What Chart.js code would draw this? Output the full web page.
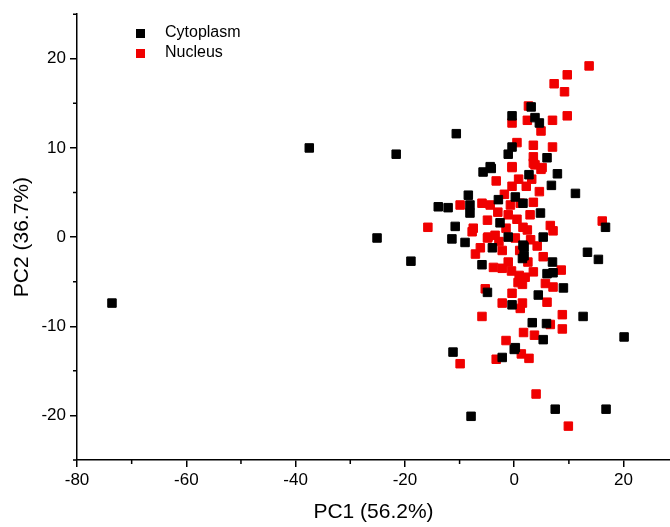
<!DOCTYPE html>
<html>
<head>
<meta charset="utf-8">
<script src="https://cdn.jsdelivr.net/npm/chart.js@4.4.1/dist/chart.umd.min.js"></script>
<style>
  html, body { margin: 0; padding: 0; background: #fff; overflow: hidden; }
  #wrap { width: 677px; height: 527px; position: relative; }
</style>
</head>
<body>
<div id="wrap"><canvas id="myChart"></canvas></div>
<script>
// PCA scores, [PC1, PC2]
let cytoplasm = [
    [-73.6, -7.4], [-37.5, 10.0], [-21.6, 9.3], [-25.1, -0.1], [-18.9, -2.7],
    [-10.6, 11.6], [-11.2, -12.9], [-7.9, -20.1], [7.5, -19.3], [16.8, -19.3],
    [20.1, -11.2], [12.6, -8.9], [15.4, -2.5], [13.4, -1.7], [11.2, 4.9],
    [16.7, 1.1], [9.0, -5.7], [7.0, -2.8], [5.3, -11.5], [3.3, -9.6],
    [5.9, -9.7], [-2.2, -13.5], [0.0, -12.6], [6.0, -4.1], [7.1, -4.0],
    [1.8, -2.1], [4.4, -6.5], [-5.9, -3.1], [1.5, -2.4], [-4.9, -6.2],
    [-0.4, -7.6], [-5.7, 7.3], [-4.2, 7.7], [-8.4, 4.7], [-13.9, 3.4],
    [-12.1, 3.3], [-8.1, 3.6], [-8.1, 2.7], [-2.9, 4.2], [0.2, 4.5],
    [-10.8, 1.2], [-2.6, 1.6], [-11.4, -0.2], [-9.0, -0.6], [-4.0, -1.2],
    [1.6, -0.9], [2.7, 7.0], [7.9, 7.1], [6.8, 5.8], [4.8, 2.7],
    [5.3, 0.0], [3.1, 14.6], [-0.4, 13.6], [3.8, 13.4], [4.6, 12.8],
    [-0.4, 10.1], [-1.1, 9.3], [6.0, 8.9], [-4.4, 7.9], [-1.1, 0.0],
    [1.8, -1.1], [0.2, -12.4], [1.6, 3.8]
];
let nucleus = [
    [13.7, 19.2], [9.7, 18.2], [7.3, 17.2], [9.2, 16.3], [2.6, 14.7],
    [9.7, 13.6], [-0.4, 12.8], [2.4, 13.1], [7.0, 13.1], [4.9, 11.9],
    [0.5, 10.6], [3.5, 10.3], [3.5, 9.0], [7.0, 10.1], [3.8, 8.1],
    [-0.4, 7.9], [5.1, 7.8], [3.5, 8.3], [4.9, 7.6], [2.2, 5.7],
    [4.6, 5.1], [3.5, 3.9], [2.9, 2.5], [6.6, 1.3], [7.1, 0.7],
    [16.1, 1.8], [2.4, 0.8], [4.2, -1.0], [5.3, -2.2], [8.6, -3.7],
    [3.5, -3.9], [2.0, -4.5], [1.5, -5.3], [5.7, -5.2], [7.1, -5.6],
    [6.0, -7.3], [1.5, -7.4], [8.8, -8.7], [8.8, -10.3], [6.6, -9.8],
    [1.7, -10.7], [3.7, -11.0], [-7.1, -1.9], [-3.8, -3.4], [-2.2, -3.5],
    [-1.1, -2.8], [0.9, -4.3], [-5.3, -5.8], [-2.2, -7.4], [-0.4, -6.3],
    [1.1, -8.0], [-5.9, -8.9], [-1.5, -11.6], [-9.9, -14.2], [-3.3, -13.7],
    [1.3, -13.1], [2.7, -13.6], [4.0, -17.6], [9.9, -21.2], [-3.3, 6.3],
    [-0.4, 7.8], [-0.4, 5.7], [-9.9, 3.6], [-5.9, 3.8], [-4.4, 3.6],
    [-0.7, 3.6], [1.1, 3.8], [-15.8, 1.1], [-7.5, 1.0], [-4.9, 1.9],
    [-1.1, 2.5], [-3.5, 0.2], [-4.9, -0.1], [-6.2, -1.2], [-2.2, -1.5],
    [0.2, -0.1], [1.6, 1.1], [-7.7, 0.6], [-4.8, 0.0], [0.7, -5.1],
    [-1.5, 1.0], [0.5, 2.0], [-2.8, -0.5], [1.0, -1.5], [-0.5, -3.8],
    [2.5, -2.8], [3.0, -0.3], [-3.0, 2.8], [-1.8, 4.8], [0.8, 6.5], [3.2, 6.5]
];
let series_labels = ['Cytoplasm', 'Nucleus'];
let series_colors = ['#000000', '#f00000'];
let x_ticks = [-80, -60, -40, -20, 0, 20];
let y_ticks = [-20, -10, 0, 10, 20];

let font_family = "'Liberation Sans', Arial, sans-serif";

function toPoints(arr) {
    return arr.map(function (d) { return { x: d[0], y: d[1] } });
}

// short minor ticks halfway between the labelled ones, and the inner legend
let decorations = {
    id: 'decorations',
    afterDraw: function (chart) {
        let c = chart.ctx;
        let xs = chart.scales.x;
        let ys = chart.scales.y;
        let area = chart.chartArea;
        c.save();
        c.strokeStyle = '#000';
        c.lineWidth = 1.5;
        c.beginPath();
        for (let i = 0; i < x_ticks.length; i++) {
            let px = xs.getPixelForValue(x_ticks[i] + 10);
            if (px > area.right) continue;
            c.moveTo(px, area.bottom);
            c.lineTo(px, area.bottom + 4);
        }
        for (let i = 0; i < y_ticks.length; i++) {
            let py = ys.getPixelForValue(y_ticks[i] + 5);
            c.moveTo(area.left - 4, py);
            c.lineTo(area.left, py);
        }
        let py0 = ys.getPixelForValue(y_ticks[0] - 5);
        c.moveTo(area.left - 4, py0);
        c.lineTo(area.left, py0);
        c.stroke();

        // legend
        c.font = '16px ' + font_family;
        c.textBaseline = 'middle';
        c.textAlign = 'left';
        for (let i = 0; i < series_labels.length; i++) {
            let ly = 33 + i * 20;
            c.fillStyle = series_colors[i];
            c.fillRect(136, ly - 4, 9, 9);
            c.fillStyle = '#000';
            c.fillText(series_labels[i], 165, ly);
        }
        c.restore();
    }
};

function setTicks(values) {
    return function (scale) {
        scale.ticks = values.map(function (v) { return { value: v } });
    };
}

let myChart = new Chart('myChart', {
    type: 'scatter',
    plugins: [decorations],
    data: {
        datasets: [
            {
                label: series_labels[0],
                data: toPoints(cytoplasm),
                backgroundColor: series_colors[0],
                borderColor: series_colors[0],
                pointStyle: 'rect',
                pointRadius: 6,
                borderWidth: 1
            },
            {
                label: series_labels[1],
                data: toPoints(nucleus),
                backgroundColor: series_colors[1],
                borderColor: series_colors[1],
                pointStyle: 'rect',
                pointRadius: 6,
                borderWidth: 1
            }
        ]
    },
    options: {
        responsive: true,
        maintainAspectRatio: false,
        animation: false,
        layout: {
            padding: { top: 14, right: 0, left: 0, bottom: 0 }
        },
        plugins: {
            legend: { display: false },
            tooltip: { enabled: false }
        },
        scales: {
            x: {
                type: 'linear',
                min: -80,
                max: 28.5,
                afterBuildTicks: setTicks(x_ticks),
                afterFit: function (scale) { scale.height = 67 },
                border: { display: true, color: '#000', width: 1.5 },
                grid: {
                    drawOnChartArea: false,
                    drawTicks: true,
                    tickLength: 7,
                    color: '#000',
                    lineWidth: 1.5
                },
                ticks: {
                    color: '#000',
                    padding: 3,
                    maxRotation: 0,
                    font: { family: font_family, size: 17 }
                },
                title: {
                    display: true,
                    text: 'PC1 (56.2%)',
                    color: '#000',
                    padding: { top: 4, bottom: 2 },
                    font: { family: font_family, size: 21 }
                }
            },
            y: {
                type: 'linear',
                min: -25,
                max: 25,
                afterBuildTicks: setTicks(y_ticks),
                afterFit: function (scale) { scale.width = 77 },
                border: { display: true, color: '#000', width: 1.5 },
                grid: {
                    drawOnChartArea: false,
                    drawTicks: true,
                    tickLength: 7,
                    color: '#000',
                    lineWidth: 1.5
                },
                ticks: {
                    color: '#000',
                    padding: 4,
                    font: { family: font_family, size: 17 }
                },
                title: {
                    display: true,
                    text: 'PC2 (36.7%)',
                    color: '#000',
                    padding: { top: 10, bottom: 4 },
                    font: { family: font_family, size: 21 }
                }
            }
        }
    }
});
</script>
</body>
</html>
